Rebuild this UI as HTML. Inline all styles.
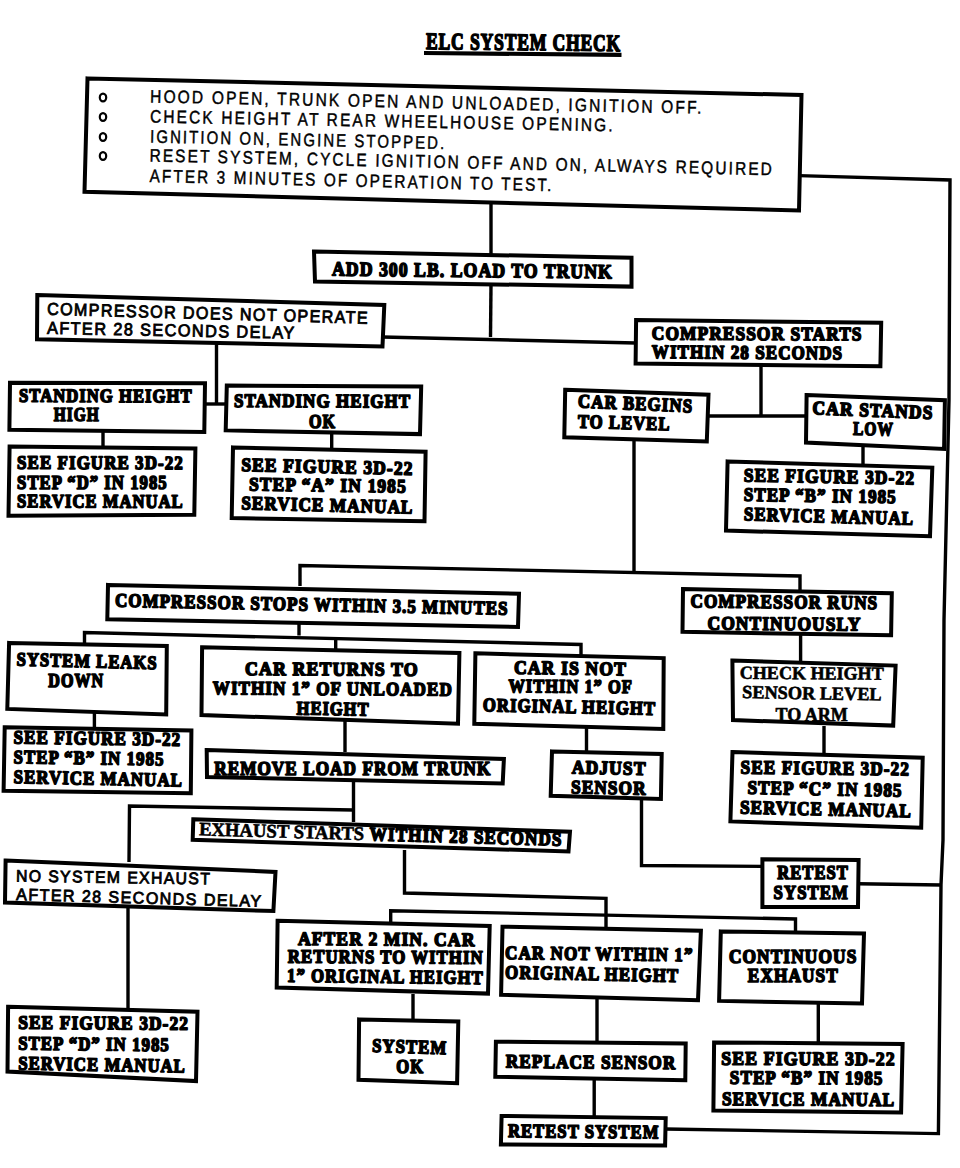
<!DOCTYPE html><html><head><meta charset="utf-8"><title>ELC System Check</title><style>html,body{margin:0;padding:0;background:#fff;}svg{display:block}.b{font-family:"Liberation Serif",serif;font-weight:bold;fill:#000;stroke:#000;stroke-width:1.6px;stroke-linejoin:round;letter-spacing:1.2px}.m{font-family:"Liberation Serif",serif;font-weight:bold;fill:#000;stroke:#000;stroke-width:0.6px;stroke-linejoin:round}.r{font-family:"Liberation Sans",sans-serif;font-weight:normal;fill:#000;stroke:#000;stroke-width:0.45px;letter-spacing:2.5px}</style></head><body>
<svg width="960" height="1168" viewBox="0 0 960 1168">
<rect width="960" height="1168" fill="#fff"/>
<text class="b" x="426" y="49" font-size="23.5" style="stroke-width:1.6px" textLength="195" lengthAdjust="spacingAndGlyphs" transform="rotate(0.6 426 49)">ELC SYSTEM CHECK</text>
<line x1="424" y1="53" x2="621.5" y2="54.8" stroke="#000" stroke-width="4.2"/>
<polygon points="87.5,78.4 801.5,95 799,210.5 84.5,191.8" fill="none" stroke="#000" stroke-width="4.0" stroke-linejoin="miter"/>
<text class="r" x="150" y="102.5" font-size="18" textLength="553.51" lengthAdjust="spacingAndGlyphs" transform="rotate(1.16 150 102.5)">HOOD OPEN, TRUNK OPEN AND UNLOADED, IGNITION OFF.</text>
<text class="r" x="150" y="122.5" font-size="18" textLength="464.78" lengthAdjust="spacingAndGlyphs" transform="rotate(1.09 150 122.5)">CHECK HEIGHT AT REAR WHEELHOUSE OPENING.</text>
<text class="r" x="150" y="142.5" font-size="18" textLength="296.27" lengthAdjust="spacingAndGlyphs" transform="rotate(1.27 150 142.5)">IGNITION ON, ENGINE STOPPED.</text>
<text class="r" x="149.4" y="161.5" font-size="18" textLength="624.65" lengthAdjust="spacingAndGlyphs" transform="rotate(1.26 149.4 161.5)">RESET SYSTEM, CYCLE IGNITION OFF AND ON, ALWAYS REQUIRED</text>
<text class="r" x="149.4" y="181.9" font-size="18" textLength="404.11" lengthAdjust="spacingAndGlyphs" transform="rotate(1.33 149.4 181.9)">AFTER 3 MINUTES OF OPERATION TO TEST.</text>
<polygon points="314,251.5 631.5,257.8 631.5,286.6 315,281.5" fill="none" stroke="#000" stroke-width="4.0" stroke-linejoin="miter"/>
<text class="b" x="332" y="275.6" font-size="20" textLength="280.81" lengthAdjust="spacingAndGlyphs" transform="rotate(0.55 332 275.6)">ADD 300 LB. LOAD TO TRUNK</text>
<polygon points="37.3,295 384.3,305 382.5,346.5 37,339.2" fill="none" stroke="#000" stroke-width="4.0" stroke-linejoin="miter"/>
<text class="r" style="stroke-width:0.85px;letter-spacing:1.5px" x="46.9" y="314.7" font-size="17.3" textLength="322.03" lengthAdjust="spacingAndGlyphs" transform="rotate(1.61 46.9 314.7)">COMPRESSOR DOES NOT OPERATE</text>
<text class="r" style="stroke-width:0.85px;letter-spacing:1.5px" x="46.9" y="333.7" font-size="17.3" textLength="248.75" lengthAdjust="spacingAndGlyphs" transform="rotate(1.16 46.9 333.7)">AFTER 28 SECONDS DELAY</text>
<polygon points="10,382.7 205,383.2 204.3,432 9.4,429.8" fill="none" stroke="#000" stroke-width="4.0" stroke-linejoin="miter"/>
<text class="b" x="19" y="401.8" font-size="19" textLength="173.6" lengthAdjust="spacingAndGlyphs" transform="rotate(0.2 19 401.8)">STANDING HEIGHT</text>
<text class="b" x="53.8" y="420.8" font-size="19" textLength="45.8" lengthAdjust="spacingAndGlyphs" transform="rotate(0 53.8 420.8)">HIGH</text>
<polygon points="9.6,446.4 195.4,448.5 194.3,514.7 8.5,515.8" fill="none" stroke="#000" stroke-width="4.0" stroke-linejoin="miter"/>
<text class="b" x="17.1" y="468.8" font-size="19" textLength="166.6" lengthAdjust="spacingAndGlyphs" transform="rotate(0.14 17.1 468.8)">SEE FIGURE 3D-22</text>
<text class="b" x="17.1" y="488.7" font-size="19" textLength="150.6" lengthAdjust="spacingAndGlyphs" transform="rotate(0 17.1 488.7)">STEP “D” IN 1985</text>
<text class="b" x="17.1" y="507.3" font-size="19" textLength="166.6" lengthAdjust="spacingAndGlyphs" transform="rotate(0.21 17.1 507.3)">SERVICE MANUAL</text>
<polygon points="226.8,385.5 421.2,386.6 420,434.1 225.7,430.4" fill="none" stroke="#000" stroke-width="4.0" stroke-linejoin="miter"/>
<text class="b" x="233.9" y="406.9" font-size="19" textLength="177.3" lengthAdjust="spacingAndGlyphs" transform="rotate(0.23 233.9 406.9)">STANDING HEIGHT</text>
<text class="b" x="309" y="427.5" font-size="19" textLength="27.1" lengthAdjust="spacingAndGlyphs" transform="rotate(0 309 427.5)">OK</text>
<polygon points="233,447.4 425.6,451.8 424.5,521.3 231.7,518" fill="none" stroke="#000" stroke-width="4.0" stroke-linejoin="miter"/>
<text class="b" x="241.2" y="471" font-size="19" textLength="172.25" lengthAdjust="spacingAndGlyphs" transform="rotate(1.34 241.2 471)">SEE FIGURE 3D-22</text>
<text class="b" x="248.9" y="490.4" font-size="19" textLength="157.92" lengthAdjust="spacingAndGlyphs" transform="rotate(0.8 248.9 490.4)">STEP “A” IN 1985</text>
<text class="b" x="241.2" y="509.2" font-size="19" textLength="172.26" lengthAdjust="spacingAndGlyphs" transform="rotate(1.47 241.2 509.2)">SERVICE MANUAL</text>
<polygon points="636.1,320.1 881.2,322.8 880.4,366.2 635.6,363.5" fill="none" stroke="#000" stroke-width="4.0" stroke-linejoin="miter"/>
<text class="b" x="651.8" y="339.6" font-size="19" textLength="210.8" lengthAdjust="spacingAndGlyphs" transform="rotate(0.22 651.8 339.6)">COMPRESSOR STARTS</text>
<text class="b" x="651.8" y="358" font-size="19" textLength="191.31" lengthAdjust="spacingAndGlyphs" transform="rotate(0.42 651.8 358)">WITHIN 28 SECONDS</text>
<polygon points="565.2,389.8 708.5,394.8 706.8,441.5 564.3,437.3" fill="none" stroke="#000" stroke-width="4.0" stroke-linejoin="miter"/>
<text class="b" x="577.7" y="407.3" font-size="19" textLength="115.31" lengthAdjust="spacingAndGlyphs" transform="rotate(2.51 577.7 407.3)">CAR BEGINS</text>
<text class="b" x="577.7" y="427.7" font-size="19" textLength="92.74" lengthAdjust="spacingAndGlyphs" transform="rotate(1.63 577.7 427.7)">TO LEVEL</text>
<polygon points="806.6,395.1 944.9,400.3 944.1,449 806,442.6" fill="none" stroke="#000" stroke-width="4.0" stroke-linejoin="miter"/>
<text class="b" x="812.3" y="414.1" font-size="19" textLength="121.1" lengthAdjust="spacingAndGlyphs" transform="rotate(2.29 812.3 414.1)">CAR STANDS</text>
<text class="b" x="853" y="434.7" font-size="19" textLength="40.71" lengthAdjust="spacingAndGlyphs" transform="rotate(1.16 853 434.7)">LOW</text>
<polygon points="727.6,461.4 932.3,467.6 930,536.3 726,530.6" fill="none" stroke="#000" stroke-width="4.0" stroke-linejoin="miter"/>
<text class="b" x="743.7" y="481.4" font-size="19" textLength="171.32" lengthAdjust="spacingAndGlyphs" transform="rotate(0.98 743.7 481.4)">SEE FIGURE 3D-22</text>
<text class="b" x="743.7" y="500.8" font-size="19" textLength="153.02" lengthAdjust="spacingAndGlyphs" transform="rotate(0.87 743.7 500.8)">STEP “B” IN 1985</text>
<text class="b" x="743.7" y="520.3" font-size="19" textLength="170.26" lengthAdjust="spacingAndGlyphs" transform="rotate(1.56 743.7 520.3)">SERVICE MANUAL</text>
<polygon points="108,584.9 519,593.7 518,627 107.3,619.2" fill="none" stroke="#000" stroke-width="4.0" stroke-linejoin="miter"/>
<text class="b" x="114.9" y="606.6" font-size="19" textLength="393.79" lengthAdjust="spacingAndGlyphs" transform="rotate(1.2 114.9 606.6)">COMPRESSOR STOPS WITHIN 3.5 MINUTES</text>
<polygon points="683,589.1 891.8,593.3 891.1,635.3 682.5,631.8" fill="none" stroke="#000" stroke-width="4.0" stroke-linejoin="miter"/>
<text class="b" x="690.5" y="607.3" font-size="19" textLength="187.71" lengthAdjust="spacingAndGlyphs" transform="rotate(0.58 690.5 607.3)">COMPRESSOR RUNS</text>
<text class="b" x="707.5" y="629.5" font-size="19" textLength="153.9" lengthAdjust="spacingAndGlyphs" transform="rotate(0.45 707.5 629.5)">CONTINUOUSLY</text>
<polygon points="732.4,660.5 895.6,665.6 893.2,725.6 733,720.1" fill="none" stroke="#000" stroke-width="4.0" stroke-linejoin="miter"/>
<text class="m" x="739.8" y="678.8" font-size="18.5" textLength="143.9" lengthAdjust="spacingAndGlyphs" transform="rotate(0.4 739.8 678.8)">CHECK HEIGHT</text>
<text class="m" x="742.1" y="698.1" font-size="18.5" textLength="139.42" lengthAdjust="spacingAndGlyphs" transform="rotate(0.99 742.1 698.1)">SENSOR LEVEL</text>
<text class="m" x="775.5" y="721.4" font-size="18.5" textLength="72.4" lengthAdjust="spacingAndGlyphs" transform="rotate(0 775.5 721.4)">TO ARM</text>
<polygon points="732.5,752 922.7,757.7 921.2,827.8 730.4,821.4" fill="none" stroke="#000" stroke-width="4.0" stroke-linejoin="miter"/>
<text class="b" x="740.6" y="773.6" font-size="19" textLength="169.41" lengthAdjust="spacingAndGlyphs" transform="rotate(0.58 740.6 773.6)">SEE FIGURE 3D-22</text>
<text class="b" x="747.4" y="793.8" font-size="19" textLength="155.13" lengthAdjust="spacingAndGlyphs" transform="rotate(1.04 747.4 793.8)">STEP “C” IN 1985</text>
<text class="b" x="739.9" y="813.6" font-size="19" textLength="171.84" lengthAdjust="spacingAndGlyphs" transform="rotate(1.21 739.9 813.6)">SERVICE MANUAL</text>
<polygon points="9.1,642.9 166.8,646 166.2,714.4 7.3,708.9" fill="none" stroke="#000" stroke-width="4.0" stroke-linejoin="miter"/>
<text class="b" x="16.4" y="665.5" font-size="19" textLength="141.15" lengthAdjust="spacingAndGlyphs" transform="rotate(1.51 16.4 665.5)">SYSTEM LEAKS</text>
<text class="b" x="48.3" y="687.4" font-size="19" textLength="55.8" lengthAdjust="spacingAndGlyphs" transform="rotate(0 48.3 687.4)">DOWN</text>
<polygon points="4.7,727.3 191.4,730.5 190.8,793.3 3.6,790.8" fill="none" stroke="#000" stroke-width="4.0" stroke-linejoin="miter"/>
<text class="b" x="13.5" y="743.4" font-size="19" textLength="167.62" lengthAdjust="spacingAndGlyphs" transform="rotate(0.83 13.5 743.4)">SEE FIGURE 3D-22</text>
<text class="b" x="13.5" y="763.2" font-size="19" textLength="150.91" lengthAdjust="spacingAndGlyphs" transform="rotate(0.8 13.5 763.2)">STEP “B” IN 1985</text>
<text class="b" x="13.5" y="783" font-size="19" textLength="169.34" lengthAdjust="spacingAndGlyphs" transform="rotate(1.19 13.5 783)">SERVICE MANUAL</text>
<polygon points="202.1,647.3 459.4,652.9 458,723.7 201.5,715.1" fill="none" stroke="#000" stroke-width="4.0" stroke-linejoin="miter"/>
<text class="b" x="244.9" y="675" font-size="19" textLength="173.8" lengthAdjust="spacingAndGlyphs" transform="rotate(0.27 244.9 675)">CAR RETURNS TO</text>
<text class="b" x="212.8" y="694.3" font-size="19" textLength="240" lengthAdjust="spacingAndGlyphs" transform="rotate(0.34 212.8 694.3)">WITHIN 1” OF UNLOADED</text>
<text class="b" x="296.6" y="714.4" font-size="19" textLength="72.81" lengthAdjust="spacingAndGlyphs" transform="rotate(0.96 296.6 714.4)">HEIGHT</text>
<polygon points="475.4,653.3 663.7,658.1 663.3,729 474.3,723.8" fill="none" stroke="#000" stroke-width="4.0" stroke-linejoin="miter"/>
<text class="b" x="513.9" y="673.7" font-size="19" textLength="113.01" lengthAdjust="spacingAndGlyphs" transform="rotate(0.87 513.9 673.7)">CAR IS NOT</text>
<text class="b" x="508.4" y="692.2" font-size="19" textLength="124.4" lengthAdjust="spacingAndGlyphs" transform="rotate(0.46 508.4 692.2)">WITHIN 1” OF</text>
<text class="b" x="482.7" y="711.1" font-size="19" textLength="173.34" lengthAdjust="spacingAndGlyphs" transform="rotate(1.26 482.7 711.1)">ORIGINAL HEIGHT</text>
<polygon points="206.7,750 503.9,759 502.7,783.4 207,777" fill="none" stroke="#000" stroke-width="4.0" stroke-linejoin="miter"/>
<text class="b" x="214.2" y="775" font-size="19" textLength="277.3" lengthAdjust="spacingAndGlyphs" transform="rotate(0 214.2 775)">REMOVE LOAD FROM TRUNK</text>
<polygon points="193.3,819.3 570,831.7 568.5,851.5 192.7,839.8" fill="none" stroke="#000" stroke-width="4.0" stroke-linejoin="miter"/>
<text class="m" x="198.9" y="835.3" font-size="19" textLength="165.17" lengthAdjust="spacingAndGlyphs" transform="rotate(1.67 198.9 835.3)">EXHAUST STARTS</text>
<text class="b" x="369.5" y="840.2" font-size="19" textLength="192.88" lengthAdjust="spacingAndGlyphs" transform="rotate(1.67 369.5 840.2)">WITHIN 28 SECONDS</text>
<polygon points="552,751.4 661.7,753.9 660.9,799 550.7,795.8" fill="none" stroke="#000" stroke-width="4.0" stroke-linejoin="miter"/>
<text class="b" x="571.7" y="773.6" font-size="19" textLength="74.81" lengthAdjust="spacingAndGlyphs" transform="rotate(1.01 571.7 773.6)">ADJUST</text>
<text class="b" x="571" y="793.3" font-size="19" textLength="75.51" lengthAdjust="spacingAndGlyphs" transform="rotate(1 571 793.3)">SENSOR</text>
<polygon points="762.4,859.2 858.6,860.1 858,907.1 762.4,907.1" fill="none" stroke="#000" stroke-width="4.0" stroke-linejoin="miter"/>
<text class="b" x="777.2" y="879" font-size="19" textLength="71.7" lengthAdjust="spacingAndGlyphs" transform="rotate(0 777.2 879)">RETEST</text>
<text class="b" x="773.6" y="899.3" font-size="19" textLength="75.3" lengthAdjust="spacingAndGlyphs" transform="rotate(0 773.6 899.3)">SYSTEM</text>
<polygon points="5.6,860.5 275.5,871.9 273.4,911 5,902.5" fill="none" stroke="#000" stroke-width="4.0" stroke-linejoin="miter"/>
<text class="r" style="stroke-width:0.85px;letter-spacing:1.5px" x="16" y="881.5" font-size="16.6" textLength="195.32" lengthAdjust="spacingAndGlyphs" transform="rotate(0.86 16 881.5)">NO SYSTEM EXHAUST</text>
<text class="r" style="stroke-width:0.85px;letter-spacing:1.5px" x="16" y="900" font-size="16.6" textLength="246.4" lengthAdjust="spacingAndGlyphs" transform="rotate(1.61 16 900)">AFTER 28 SECONDS DELAY</text>
<polygon points="8.1,1006.8 197.5,1011.7 196,1081.1 7.5,1071.5" fill="none" stroke="#000" stroke-width="4.0" stroke-linejoin="miter"/>
<text class="b" x="18.2" y="1028.8" font-size="19" textLength="170.8" lengthAdjust="spacingAndGlyphs" transform="rotate(0.37 18.2 1028.8)">SEE FIGURE 3D-22</text>
<text class="b" x="18.2" y="1049.5" font-size="19" textLength="151.61" lengthAdjust="spacingAndGlyphs" transform="rotate(0.65 18.2 1049.5)">STEP “D” IN 1985</text>
<text class="b" x="18.2" y="1069.4" font-size="19" textLength="167.63" lengthAdjust="spacingAndGlyphs" transform="rotate(1.1 18.2 1069.4)">SERVICE MANUAL</text>
<polygon points="277.6,920.7 489.7,925.9 488,993.6 276.7,987.6" fill="none" stroke="#000" stroke-width="4.0" stroke-linejoin="miter"/>
<text class="b" x="298" y="944.9" font-size="19" textLength="177.4" lengthAdjust="spacingAndGlyphs" transform="rotate(0.39 298 944.9)">AFTER 2 MIN. CAR</text>
<text class="b" x="287.8" y="962.7" font-size="19" textLength="195.9" lengthAdjust="spacingAndGlyphs" transform="rotate(0.35 287.8 962.7)">RETURNS TO WITHIN</text>
<text class="b" x="287.1" y="981.7" font-size="19" textLength="196.61" lengthAdjust="spacingAndGlyphs" transform="rotate(0.7 287.1 981.7)">1” ORIGINAL HEIGHT</text>
<polygon points="359.1,1019.4 458.3,1021.5 457.1,1083.3 358.5,1079.7" fill="none" stroke="#000" stroke-width="4.0" stroke-linejoin="miter"/>
<text class="b" x="372" y="1051.8" font-size="19" textLength="75.14" lengthAdjust="spacingAndGlyphs" transform="rotate(1.86 372 1051.8)">SYSTEM</text>
<text class="b" x="396.2" y="1073.2" font-size="19" textLength="27.9" lengthAdjust="spacingAndGlyphs" transform="rotate(0 396.2 1073.2)">OK</text>
<polygon points="502.5,926.7 700.9,930.7 698,1000.3 501.1,994.7" fill="none" stroke="#000" stroke-width="4.0" stroke-linejoin="miter"/>
<text class="b" x="505.1" y="959" font-size="19" textLength="188.41" lengthAdjust="spacingAndGlyphs" transform="rotate(0.67 505.1 959)">CAR NOT WITHIN 1”</text>
<text class="b" x="505.1" y="978.4" font-size="19" textLength="173.94" lengthAdjust="spacingAndGlyphs" transform="rotate(1.19 505.1 978.4)">ORIGINAL HEIGHT</text>
<polygon points="495.9,1041.7 685.7,1043.4 685.3,1080.2 495.3,1076.7" fill="none" stroke="#000" stroke-width="4.0" stroke-linejoin="miter"/>
<text class="b" x="505.8" y="1067.6" font-size="19" textLength="170.51" lengthAdjust="spacingAndGlyphs" transform="rotate(0.51 505.8 1067.6)">REPLACE SENSOR</text>
<polygon points="501.6,1116 665.7,1118.1 665.1,1145.5 500.9,1144.4" fill="none" stroke="#000" stroke-width="4.0" stroke-linejoin="miter"/>
<text class="b" x="507.9" y="1137.1" font-size="19" textLength="151.51" lengthAdjust="spacingAndGlyphs" transform="rotate(0.53 507.9 1137.1)">RETEST SYSTEM</text>
<polygon points="720.8,931.4 864,933.4 862,1003.5 719.1,1000.9" fill="none" stroke="#000" stroke-width="4.0" stroke-linejoin="miter"/>
<text class="b" x="728.9" y="963" font-size="19" textLength="128.5" lengthAdjust="spacingAndGlyphs" transform="rotate(0 728.9 963)">CONTINUOUS</text>
<text class="b" x="747.8" y="982.4" font-size="19" textLength="91" lengthAdjust="spacingAndGlyphs" transform="rotate(0 747.8 982.4)">EXHAUST</text>
<polygon points="714.1,1042.4 902.6,1044.1 901.1,1112.5 713.4,1110.4" fill="none" stroke="#000" stroke-width="4.0" stroke-linejoin="miter"/>
<text class="b" x="721.3" y="1064.7" font-size="19" textLength="174.5" lengthAdjust="spacingAndGlyphs" transform="rotate(0.2 721.3 1064.7)">SEE FIGURE 3D-22</text>
<text class="b" x="729.8" y="1083.8" font-size="19" textLength="153.7" lengthAdjust="spacingAndGlyphs" transform="rotate(0.23 729.8 1083.8)">STEP “B” IN 1985</text>
<text class="b" x="721.9" y="1105.1" font-size="19" textLength="173.3" lengthAdjust="spacingAndGlyphs" transform="rotate(0.33 721.9 1105.1)">SERVICE MANUAL</text>
<polyline points="491,203 491,254" fill="none" stroke="#000" stroke-width="3.4" stroke-linejoin="miter"/>
<polyline points="491,284 490.5,337" fill="none" stroke="#000" stroke-width="3.4" stroke-linejoin="miter"/>
<polyline points="382.5,337 635.6,343" fill="none" stroke="#000" stroke-width="3.4" stroke-linejoin="miter"/>
<polyline points="799,175.6 950,180 949,400 944,620 943,840 941,885 938.4,1133.6 665.5,1129" fill="none" stroke="#000" stroke-width="3.4" stroke-linejoin="miter"/>
<polyline points="858.3,883.7 941,885" fill="none" stroke="#000" stroke-width="3.4" stroke-linejoin="miter"/>
<polyline points="216.5,343 216.5,404" fill="none" stroke="#000" stroke-width="3.4" stroke-linejoin="miter"/>
<polyline points="204.5,404 226,404" fill="none" stroke="#000" stroke-width="3.4" stroke-linejoin="miter"/>
<polyline points="103,431 103,447" fill="none" stroke="#000" stroke-width="3.4" stroke-linejoin="miter"/>
<polyline points="331.7,434 331.7,450" fill="none" stroke="#000" stroke-width="3.4" stroke-linejoin="miter"/>
<polyline points="761,365 761,416" fill="none" stroke="#000" stroke-width="3.4" stroke-linejoin="miter"/>
<polyline points="707.5,416 806.3,416" fill="none" stroke="#000" stroke-width="3.4" stroke-linejoin="miter"/>
<polyline points="863,446 863,464" fill="none" stroke="#000" stroke-width="3.4" stroke-linejoin="miter"/>
<polyline points="634,440 634,572" fill="none" stroke="#000" stroke-width="3.4" stroke-linejoin="miter"/>
<polyline points="300,586 300,565.5 800,576 800,591" fill="none" stroke="#000" stroke-width="3.4" stroke-linejoin="miter"/>
<polyline points="800.6,634 800.6,662" fill="none" stroke="#000" stroke-width="3.4" stroke-linejoin="miter"/>
<polyline points="824,726 824,755" fill="none" stroke="#000" stroke-width="3.4" stroke-linejoin="miter"/>
<polyline points="299,623 299,635.5" fill="none" stroke="#000" stroke-width="3.4" stroke-linejoin="miter"/>
<polyline points="84.5,643 84.5,632.6 581,644.5 581,655" fill="none" stroke="#000" stroke-width="3.4" stroke-linejoin="miter"/>
<polyline points="335.7,640 335.7,649" fill="none" stroke="#000" stroke-width="3.4" stroke-linejoin="miter"/>
<polyline points="94.4,712 94.4,728" fill="none" stroke="#000" stroke-width="3.4" stroke-linejoin="miter"/>
<polyline points="345,721 345,752" fill="none" stroke="#000" stroke-width="3.4" stroke-linejoin="miter"/>
<polyline points="586.5,728 586.5,752.5" fill="none" stroke="#000" stroke-width="3.4" stroke-linejoin="miter"/>
<polyline points="353.5,781 353.5,822" fill="none" stroke="#000" stroke-width="3.4" stroke-linejoin="miter"/>
<polyline points="129,862 129.5,806 353.5,810" fill="none" stroke="#000" stroke-width="3.4" stroke-linejoin="miter"/>
<polyline points="641.5,799 641.5,865.5 762.4,866.4" fill="none" stroke="#000" stroke-width="3.4" stroke-linejoin="miter"/>
<polyline points="128,907 128,1009" fill="none" stroke="#000" stroke-width="3.4" stroke-linejoin="miter"/>
<polyline points="404.5,850 404.5,893 606,898.3 606,928" fill="none" stroke="#000" stroke-width="3.4" stroke-linejoin="miter"/>
<polyline points="390.7,922.7 390.7,910.7 795.5,919 795.5,932" fill="none" stroke="#000" stroke-width="3.4" stroke-linejoin="miter"/>
<polyline points="413,994 413,1020" fill="none" stroke="#000" stroke-width="3.4" stroke-linejoin="miter"/>
<polyline points="597,998 597,1042" fill="none" stroke="#000" stroke-width="3.4" stroke-linejoin="miter"/>
<polyline points="594.2,1079 594.2,1117" fill="none" stroke="#000" stroke-width="3.4" stroke-linejoin="miter"/>
<polyline points="818.3,1002 818.3,1043" fill="none" stroke="#000" stroke-width="3.4" stroke-linejoin="miter"/>
<ellipse cx="103" cy="97.5" rx="3.2" ry="3.9" fill="none" stroke="#000" stroke-width="2.2"/>
<ellipse cx="103" cy="117" rx="3.2" ry="3.9" fill="none" stroke="#000" stroke-width="2.2"/>
<ellipse cx="103" cy="137" rx="3.2" ry="3.9" fill="none" stroke="#000" stroke-width="2.2"/>
<ellipse cx="103" cy="156" rx="3.2" ry="3.9" fill="none" stroke="#000" stroke-width="2.2"/>
</svg></body></html>
